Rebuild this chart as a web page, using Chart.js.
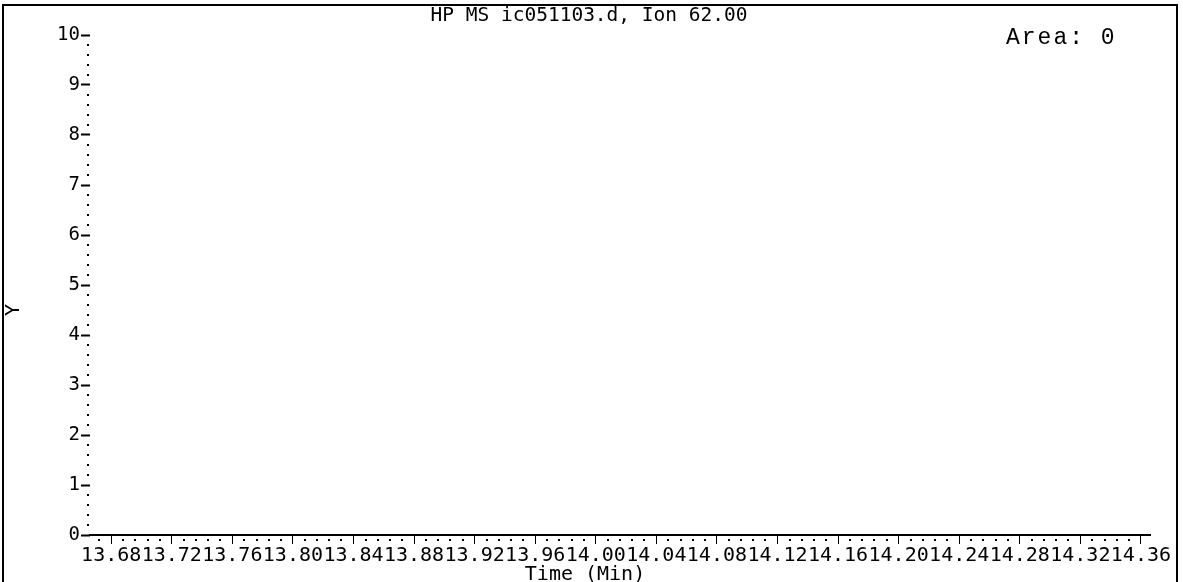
<!DOCTYPE html>
<html>
<head>
<meta charset="utf-8">
<script src="https://cdn.jsdelivr.net/npm/chart.js@4/dist/chart.umd.min.js"></script>
<style>
  html, body { margin: 0; padding: 0; background: #fff; }
  #wrap { width: 1183px; height: 582px; position: relative; }
</style>
</head>
<body>
<div id="wrap"><canvas id="c" width="1183" height="582"></canvas></div>
<script>
// ---- Data ----
const chartTitle = 'HP MS ic051103.d, Ion 62.00';
const areaText = 'Area: 0';
const xAxisTitle = 'Time (Min)';
const yAxisTitle = 'Y';
const xTickLabels = ['13.68','13.72','13.76','13.80','13.84','13.88','13.92','13.96','14.00','14.04','14.08','14.12','14.16','14.20','14.24','14.28','14.32','14.36'];
const yTickLabels = [0,1,2,3,4,5,6,7,8,9,10];
const timeMin = [13.666, 14.366];
const abundance = [0, 0];
const xRange = [13.666, 14.366];
const yRange = [0, 10];

const monoFont = '"DejaVu Sans Mono", monospace';

const decorPlugin = {
  id: 'decor',
  afterDraw(chart) {
    const ctx = chart.ctx;
    const xs = chart.scales.x, ys = chart.scales.y;
    ctx.save();
    ctx.fillStyle = '#000';
    // minor dots on x axis
    const xt = xTickLabels.map(Number);
    const step = (xt[1] - xt[0]) / 5;
    for (let v = xt[0] - step; v <= xRange[1] + 1e-9; v += step) {
      if (v < xRange[0]) continue;
      const k = Math.round((v - xt[0]) / step);
      if (k % 5 === 0) continue;
      const px = xs.getPixelForValue(v);
      ctx.fillRect(Math.round(px) - 1, ys.bottom + 4, 2, 2);
    }
    // minor dots on y axis
    for (let i = 0; i <= 50; i++) {
      if (i % 5 === 0) continue;
      const py = ys.getPixelForValue(i * 0.2);
      ctx.fillRect(xs.left - 3, Math.round(py) - 1, 2, 2);
    }
    // frame
    ctx.strokeStyle = '#000';
    ctx.lineWidth = 2;
    ctx.strokeRect(3, 5, 1174, 600);
    // title
    ctx.font = '19.5px ' + monoFont;
    ctx.textAlign = 'center';
    ctx.textBaseline = 'middle';
    ctx.fillText(chartTitle, 589, 16);
    // x axis title
    ctx.font = '20px ' + monoFont;
    ctx.fillText(xAxisTitle, 585, 575);
    // y axis title (rotated)
    ctx.save();
    ctx.translate(14, 310);
    ctx.rotate(-Math.PI / 2);
    ctx.fillText(yAxisTitle, 0, 0);
    ctx.restore();
    // area annotation
    ctx.font = '23px "Liberation Mono", "Courier New", monospace';
    ctx.textAlign = 'left';
    ctx.textBaseline = 'alphabetic';
    if ('letterSpacing' in ctx) ctx.letterSpacing = '2px';
    ctx.fillText(areaText, 1006, 44);
    ctx.restore();
  }
};

new Chart(document.getElementById('c'), {
  type: 'line',
  data: {
    datasets: [{
      data: timeMin.map((t, i) => ({ x: t, y: abundance[i] })),
      borderColor: '#000',
      borderWidth: 2,
      pointRadius: 0,
      clip: false,
      tension: 0
    }]
  },
  options: {
    responsive: false,
    animation: false,
    devicePixelRatio: 1,
    layout: { padding: { left: 0, top: 35, right: 33, bottom: 0 } },
    plugins: { legend: { display: false }, tooltip: { enabled: false }, title: { display: false } },
    scales: {
      x: {
        type: 'linear',
        min: xRange[0],
        max: xRange[1],
        afterFit(scale) { scale.height = 47; },
        afterBuildTicks(scale) { scale.ticks = xTickLabels.map(v => ({ value: Number(v) })); },
        border: { display: true, color: '#000', width: 2 },
        grid: { display: true, drawOnChartArea: false, drawTicks: true, tickLength: 9, tickColor: '#000', tickWidth: 1 },
        ticks: {
          autoSkip: false, maxRotation: 0, minRotation: 0, padding: 0,
          color: '#000', font: { family: monoFont, size: 20 },
          callback: (v, i) => xTickLabels[i]
        }
      },
      y: {
        type: 'linear',
        min: yRange[0],
        max: yRange[1],
        afterFit(scale) { scale.width = 90; },
        afterBuildTicks(scale) { scale.ticks = yTickLabels.map(v => ({ value: v })); },
        border: { display: false },
        grid: { display: true, drawOnChartArea: false, drawTicks: true, tickLength: 9, tickColor: '#000', tickWidth: 2 },
        ticks: {
          autoSkip: false, padding: 1,
          color: '#000', font: { family: monoFont, size: 19 },
          callback: (v, i) => String(yTickLabels[i])
        }
      }
    }
  },
  plugins: [decorPlugin]
});
</script>
</body>
</html>
